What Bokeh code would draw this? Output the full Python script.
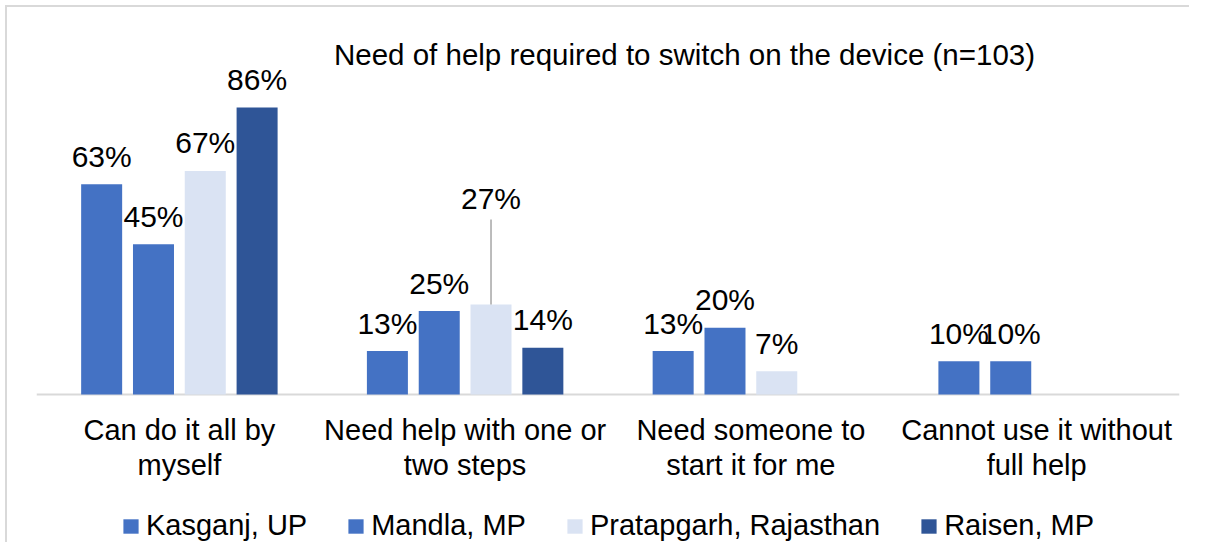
from bokeh.plotting import figure
from bokeh.models import ColumnDataSource, FactorRange, Legend, LegendItem, Label, Span, InlineStyleSheet
from bokeh.transform import dodge
from bokeh.embed import file_html
from bokeh.resources import INLINE
from bokeh.core.properties import value

# ---------------- data ----------------
categories = ["Can do it all by\nmyself",
              "Need help with one or\ntwo steps",
              "Need someone to\nstart it for me",
              "Cannot use it without\nfull help"]
series_names = ["Kasganj, UP", "Mandla, MP", "Pratapgarh, Rajasthan", "Raisen, MP"]
kasganj = [63, 13, 13, 10]
mandla = [45, 25, 20, 10]
pratapgarh = [67, 27, 7, 0]
raisen = [86, 14, 0, 0]
title_text = "Need of help required to switch on the device (n=103)"

# ---------------- style / layout ----------------
FONT = "Liberation Sans"
colors = ["#4472C4", "#4472C4", "#DAE3F3", "#2F5597"]
offsets = [-0.272, -0.0906, 0.0906, 0.272]
bar_w = 0.1435

W, H = 1189, 542
B_LEFT, B_RIGHT = 36, 10
BASE_PX = 394            # pixel row of the category baseline
PPU = 3.337              # pixels per percent
y_end = BASE_PX / PPU
y_start = -(H - BASE_PX) / PPU

label_gap = 28           # px between bar top and label
lifted = {(1, 2): 106}   # (category index, series index) -> px lift of a moved label
leader_gap = 21

p = figure(x_range=FactorRange(factors=categories), y_range=(y_start, y_end),
           width=W, height=H, output_backend="svg", toolbar_location=None,
           x_axis_location=None, y_axis_location=None,
           min_border_left=B_LEFT, min_border_right=B_RIGHT,
           min_border_top=0, min_border_bottom=0)
p.x_range.range_padding = 0
p.outline_line_color = None
p.grid.visible = False
p.background_fill_color = "white"
p.border_fill_color = "white"

# category baseline (axis line)
p.add_layout(Span(location=0, dimension="width", line_color="#D9D9D9", line_width=2, level="underlay"))

all_series = [kasganj, mandla, pratapgarh, raisen]
items = []
for si, (name, vals) in enumerate(zip(series_names, all_series)):
    src = ColumnDataSource(dict(cat=categories, val=vals))
    r = p.vbar(x=dodge("cat", offsets[si], range=p.x_range), top="val", width=bar_w,
               source=src, fill_color=colors[si], line_color=None)
    items.append(LegendItem(label=name, renderers=[r]))

    # data labels
    lc, lv, lt, lo = [], [], [], []
    sc, s0, s1 = [], [], []
    for ci, v in enumerate(vals):
        if v <= 0:
            continue
        lift = lifted.get((ci, si), 0)
        lc.append(categories[ci]); lv.append(v); lt.append(f"{v}%")
        lo.append(-label_gap if lift == 0 else -lift)
        if lift:
            sc.append(categories[ci]); s0.append(v); s1.append(v + (lift - leader_gap) / PPU)
    lsrc = ColumnDataSource(dict(cat=lc, val=lv, txt=lt, yoff=lo))
    p.text(x=dodge("cat", offsets[si], range=p.x_range), y="val", text="txt", y_offset="yoff",
           source=lsrc, text_align="center", text_baseline="alphabetic",
           text_font=value(FONT), text_font_size="30px", text_color="#000000")
    if sc:
        ssrc = ColumnDataSource(dict(cat=sc, y0=s0, y1=s1))
        p.segment(x0=dodge("cat", offsets[si], range=p.x_range), x1=dodge("cat", offsets[si], range=p.x_range),
                  y0="y0", y1="y1", source=ssrc, line_color="#A6A6A6", line_width=1.5)

# category labels under the baseline
csrc = ColumnDataSource(dict(cat=categories, y=[0] * len(categories)))
p.text(x="cat", y="y", text="cat", source=csrc, y_offset=19,
       text_align="center", text_baseline="top", text_line_height=1.12,
       text_font=value(FONT), text_font_size="29px", text_color="#000000")

# title
p.add_layout(Label(x=684 - B_LEFT, y=H - 54, x_units="screen", y_units="screen",
                   text=title_text, text_align="center", text_baseline="alphabetic",
                   text_font=FONT, text_font_size="29.5px", text_color="#000000"))

# legend
legend = Legend(items=items, orientation="horizontal", location=(121 - B_LEFT, 0),
                glyph_width=19, glyph_height=18, label_standoff=6, spacing=39,
                padding=0, margin=0, border_line_color=None, background_fill_alpha=0,
                label_text_font=FONT, label_text_font_size="29px", label_text_color="#000000")
p.add_layout(legend)

# chart border (left/top visible)
p.stylesheets = [InlineStyleSheet(css="""
:host::after { content: ''; position: absolute; left: 5px; top: 5px; right: 0; bottom: 0;
  border-left: 2px solid #D9D9D9; border-top: 2px solid #D9D9D9; pointer-events: none; }
""")]

open("out.html", "w").write(file_html(p, INLINE))
